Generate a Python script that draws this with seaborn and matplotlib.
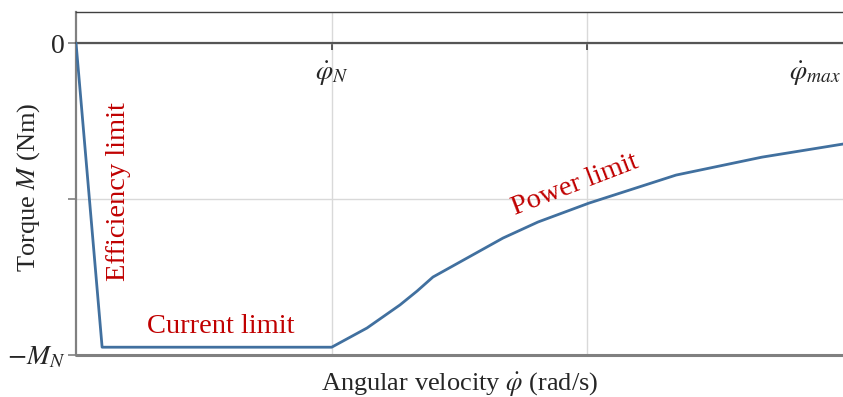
import numpy as np
import pandas as pd
import matplotlib
matplotlib.use("Agg")
import matplotlib.pyplot as plt
import seaborn as sns

# Torque limit curve of the drive (normalised: phi_N = 1, M_N = 1.95)
omega = [0.0, 0.102, 1.0, 1.138, 1.267, 1.334, 1.396, 1.670, 1.807, 2.006, 2.347, 2.683, 3.0]
torque = [0.0, -1.95, -1.95, -1.827, -1.679, -1.590, -1.500, -1.250, -1.147, -1.026, -0.846, -0.731, -0.647]

x_ticks = [1, 2]
x_tick_labels = [r"$\dot{\varphi}_N$", ""]
y_ticks = [0, -1, -2]
y_tick_labels = ["0", "", r"$-M_N$"]

df = pd.DataFrame({"omega": omega, "torque": torque})

sns.set_theme(style="white")
plt.rcParams["font.family"] = ["Liberation Serif", "DejaVu Serif"]
plt.rcParams["mathtext.fontset"] = "stix"

fig = plt.figure(figsize=(8.43, 3.97), dpi=100)
ax = fig.add_axes([0.0902, 0.1058, 0.9098, 0.8640])

sns.lineplot(data=df, x="omega", y="torque", sort=False, color="#41709f",
             linewidth=2.0, ax=ax, zorder=3)

ax.set_xlim(0, 3)
ax.set_ylim(-2, 0.2)

ax.grid(True, color="#d9d9d9", linewidth=1.0)
ax.set_axisbelow(True)

# x axis runs along M = 0
ax.spines["bottom"].set_position(("data", 0))
ax.spines["bottom"].set_color("#555555")
ax.spines["bottom"].set_linewidth(1.6)
ax.spines["top"].set_color("#404040")
ax.spines["top"].set_linewidth(1.0)
ax.spines["left"].set_color("#808080")
ax.spines["left"].set_linewidth(1.6)
ax.spines["right"].set_visible(False)
ax.axhline(-2, color="#808080", linewidth=2.2, clip_on=False, zorder=4)

ax.set_xticks(x_ticks, x_tick_labels)
ax.set_yticks(y_ticks, y_tick_labels)
ax.tick_params(axis="x", direction="out", length=5, width=1.2, color="#404040",
               labelsize=20, pad=7, bottom=True)
ax.tick_params(axis="y", direction="out", length=6, width=1.2, color="#808080",
               labelsize=20, pad=2, left=True)

ax.annotate(r"$\dot{\varphi}_{max}$", xy=(2.89, 0), xytext=(0, -12),
            textcoords="offset points", ha="center", va="top", fontsize=20)

ax.set_xlabel(r"Angular velocity $\dot{\varphi}$ (rad/s)", fontsize=19)
ax.set_ylabel(r"Torque $M$ (Nm)", fontsize=19)
ax.xaxis.set_label_coords(0.5, -0.045)
ax.yaxis.set_label_coords(-0.045, 0.49)

red = "#c00000"
ax.text(0.165, -0.95, "Efficiency limit", color=red, fontsize=20.5,
        rotation=90, ha="center", va="center")
ax.text(0.565, -1.82, "Current limit", color=red, fontsize=20.5,
        ha="center", va="center")
ax.text(1.95, -0.91, "Power limit", color=red, fontsize=20.5,
        rotation=21, ha="center", va="center", rotation_mode="anchor")

fig.savefig("out.png", dpi=100)
